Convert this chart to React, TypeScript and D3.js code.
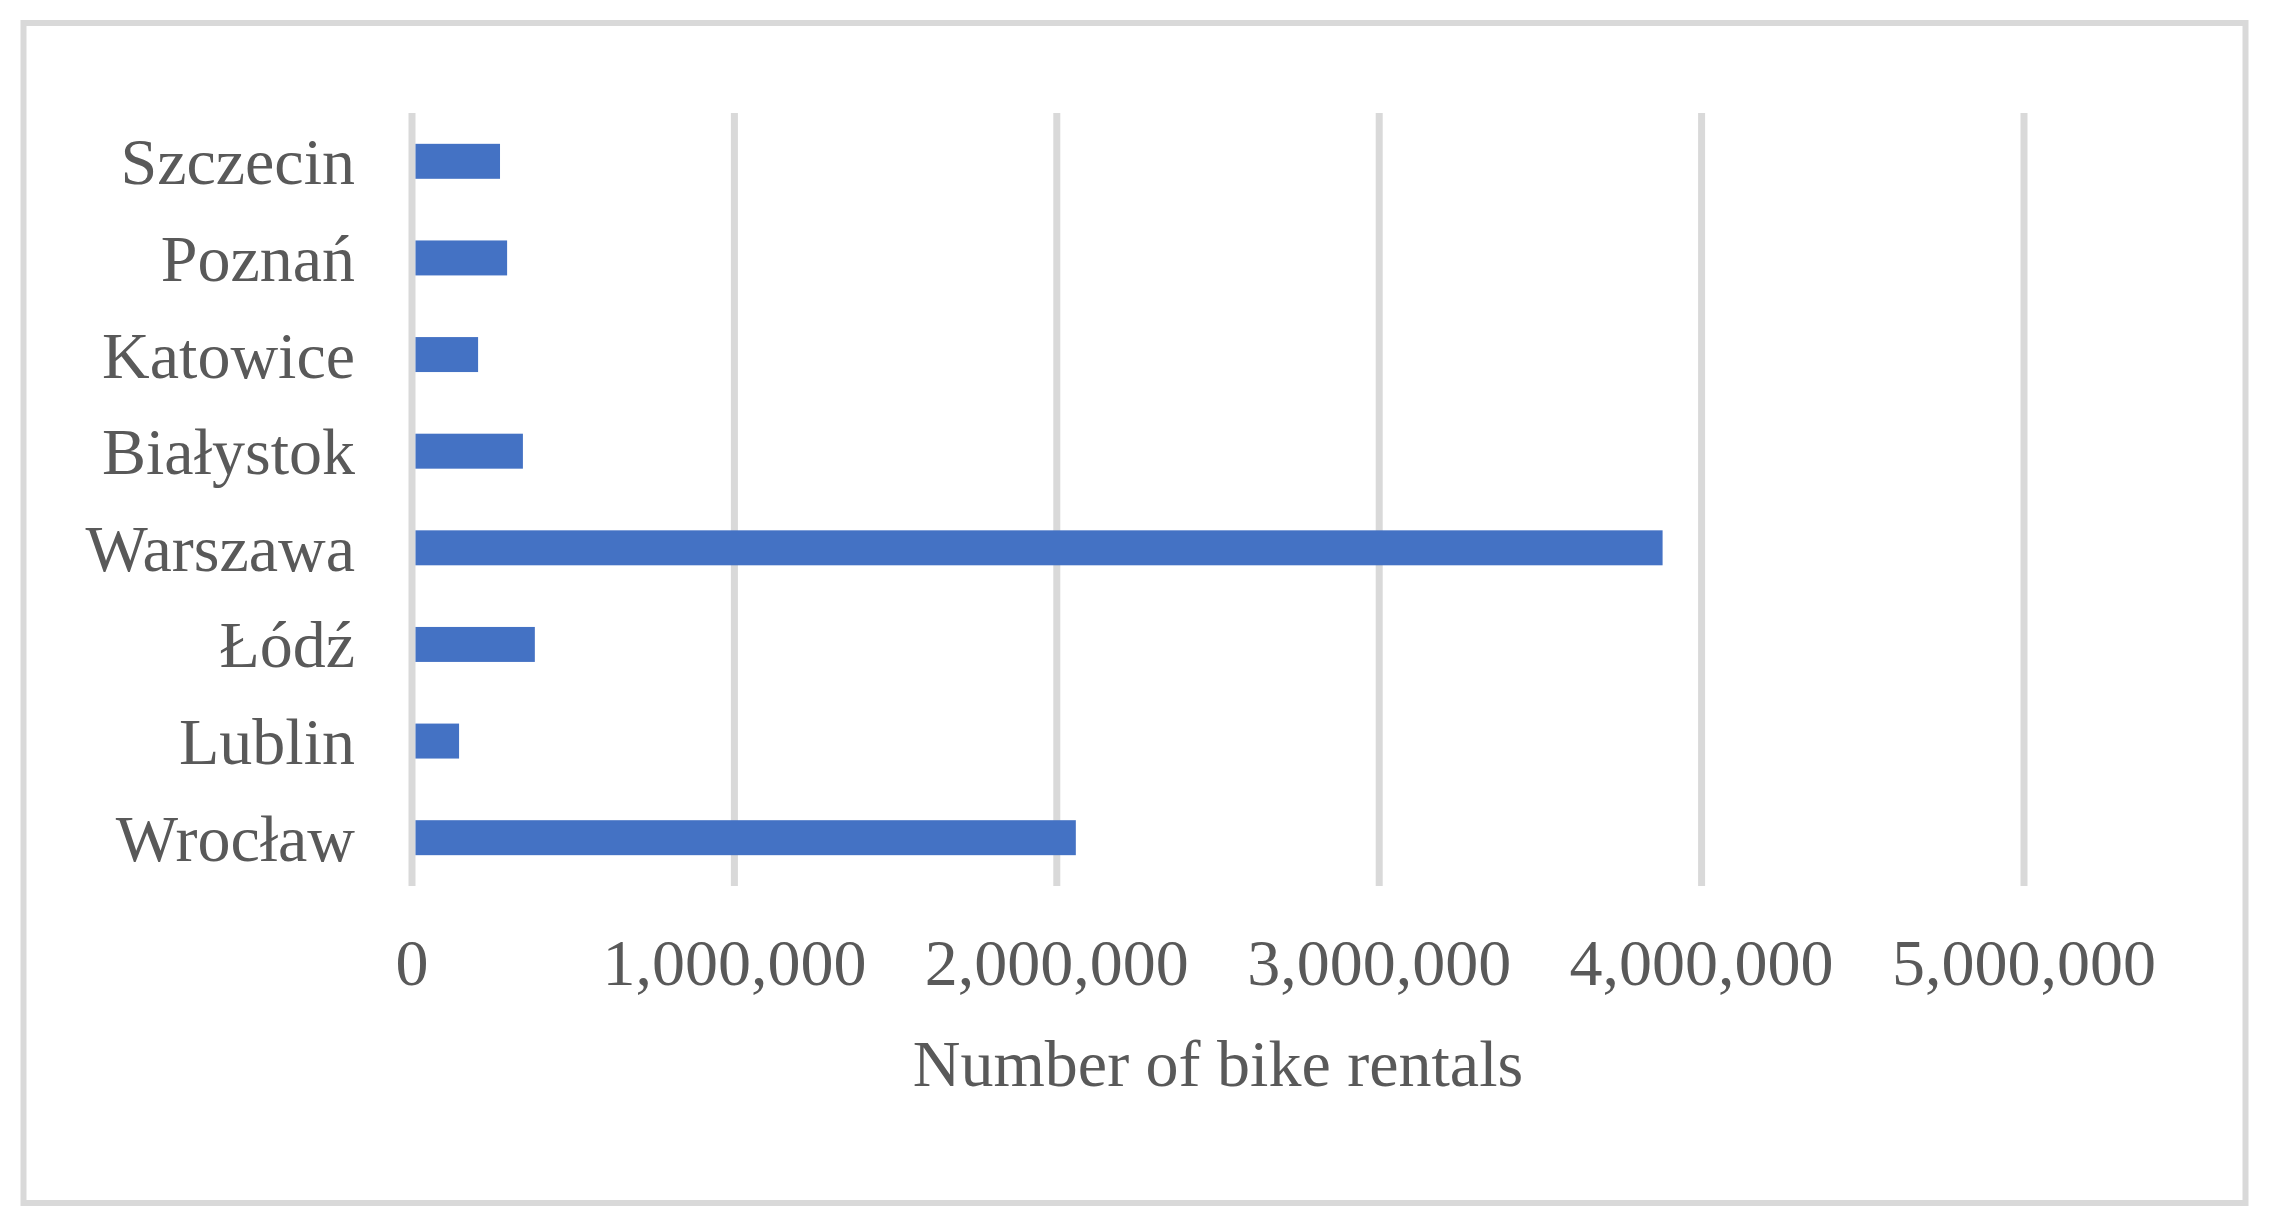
import React, { useEffect, useRef } from "react";
import * as d3 from "d3";

// cities top to bottom as drawn
const cities = ["Szczecin", "Poznań", "Katowice", "Białystok", "Warszawa", "Łódź", "Lublin", "Wrocław"];
const rentals = [273000, 295000, 205000, 344000, 3879000, 381000, 146000, 2059000];
const xTicks = [0, 1000000, 2000000, 3000000, 4000000, 5000000];
const axisTitle = "Number of bike rentals";

export default function App() {
  const ref = useRef<SVGSVGElement>(null);

  useEffect(() => {
    const W = 2270;
    const H = 1226;
    const svg = d3.select(ref.current);
    svg.selectAll("*").remove();

    const font = "'Liberation Serif', 'Times New Roman', serif";
    const textColor = "#595959";
    const gridColor = "#d9d9d9";

    // outer frame
    svg.append("rect")
      .attr("x", 23.5)
      .attr("y", 23)
      .attr("width", 2222)
      .attr("height", 1180)
      .attr("fill", "#fff")
      .attr("stroke", gridColor)
      .attr("stroke-width", 6);

    const x = d3.scaleLinear().domain([0, 5000000]).range([412, 2024]);
    const y = d3.scaleBand<string>()
      .domain(cities)
      .range([113, 886])
      .paddingInner(0.638)
      .paddingOuter(0.319);

    // vertical grid lines
    svg.selectAll(".grid")
      .data(xTicks)
      .join("line")
      .attr("class", "grid")
      .attr("x1", d => x(d))
      .attr("x2", d => x(d))
      .attr("y1", 113)
      .attr("y2", 886)
      .attr("stroke", gridColor)
      .attr("stroke-width", 7);

    // bars
    svg.selectAll(".bar")
      .data(rentals)
      .join("rect")
      .attr("class", "bar")
      .attr("x", x(0) + 3.5)
      .attr("y", (d, i) => y(cities[i])!)
      .attr("width", d => x(d) - x(0) - 3.5)
      .attr("height", y.bandwidth())
      .attr("fill", "#4472C4");

    // category labels
    svg.selectAll(".cat")
      .data(cities)
      .join("text")
      .attr("class", "cat")
      .attr("x", 355)
      .attr("y", d => y(d)! + y.bandwidth() / 2 + 23)
      .attr("text-anchor", "end")
      .attr("font-family", font)
      .attr("font-size", 66)
      .attr("fill", textColor)
      .text(d => d);

    // tick labels
    const fmt = d3.format(",");
    svg.selectAll(".tick")
      .data(xTicks)
      .join("text")
      .attr("class", "tick")
      .attr("x", d => x(d))
      .attr("y", 985)
      .attr("text-anchor", "middle")
      .attr("font-family", font)
      .attr("font-size", 66)
      .attr("fill", textColor)
      .text(d => fmt(d));

    svg.append("text")
      .attr("x", (x(0) + x(5000000)) / 2)
      .attr("y", 1086)
      .attr("text-anchor", "middle")
      .attr("font-family", font)
      .attr("font-size", 66)
      .attr("fill", textColor)
      .text(axisTitle);

    svg.attr("width", W).attr("height", H);
  }, []);

  return (
    <svg
      ref={ref}
      width={2270}
      height={1226}
      style={{ position: "absolute", left: 0, top: 0, background: "#fff" }}
    />
  );
}
